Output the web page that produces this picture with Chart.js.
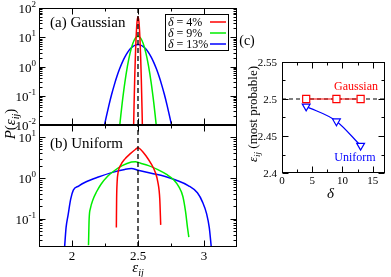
<!DOCTYPE html>
<html lang="en">
<head>
<meta charset="UTF-8">
<title>P(eps_ij) distributions</title>
<script src="https://cdn.jsdelivr.net/npm/chart.js"></script>
<style>
  body { margin: 0; background: #fff; }
  #wrap { position: relative; width: 391px; height: 277px; }
  #wrap canvas { position: absolute; left: 0; top: 0; }
</style>
</head>
<body>
<div id="wrap">
  <canvas id="chartA" width="391" height="277"></canvas>
  <canvas id="chartB" width="391" height="277"></canvas>
  <canvas id="chartC" width="391" height="277"></canvas>
</div>
<script>
// ---- data ----
const legendLabels = ['4%', '9%', '13%'];

// (a) Gaussian
const gRedX = [2.467, 2.47, 2.475, 2.48, 2.485, 2.49, 2.495, 2.5, 2.505, 2.51, 2.515, 2.52, 2.525, 2.53, 2.533];
const gRedY = [0.01, 0.044, 0.38, 2.2, 8.6, 22.9, 41, 50, 41, 22.9, 8.6, 2.2, 0.38, 0.044, 0.01];
const gGreenX = [2.36, 2.37, 2.38, 2.4, 2.42, 2.44, 2.46, 2.48, 2.5, 2.52, 2.54, 2.56, 2.58, 2.6, 2.62, 2.63, 2.64];
const gGreenY = [0.0081, 0.0218, 0.0547, 0.274, 1.03, 2.87, 6.0, 9.33, 10.8, 9.33, 6.0, 2.87, 1.03, 0.274, 0.0547, 0.0218, 0.0081];
const gBlueX = [2.245, 2.26, 2.28, 2.3, 2.32, 2.34, 2.36, 2.38, 2.4, 2.42, 2.44, 2.46, 2.48, 2.5,
                2.52, 2.54, 2.56, 2.58, 2.6, 2.62, 2.64, 2.66, 2.68, 2.7, 2.72, 2.74, 2.755];
const gBlueY = [0.0094, 0.0194, 0.048, 0.11, 0.231, 0.452, 0.815, 1.36, 2.09, 2.98, 3.93, 4.78, 5.38, 5.6,
                5.38, 4.78, 3.93, 2.98, 2.09, 1.36, 0.815, 0.452, 0.231, 0.11, 0.048, 0.0194, 0.0094];

// (b) Uniform
const uRedX = [2.336, 2.338, 2.342, 2.35, 2.37, 2.4, 2.44, 2.48, 2.5, 2.52, 2.56, 2.6, 2.63, 2.65, 2.665, 2.672];
const uRedY = [0.06, 0.3, 0.8, 1.4, 2.1, 2.9, 3.9, 5.0, 5.5, 5.0, 3.5, 2.2, 1.4, 0.8, 0.3, 0.07];
const uGreenX = [2.125, 2.13, 2.14, 2.16, 2.185, 2.22, 2.27, 2.32, 2.38, 2.45, 2.48, 2.52, 2.58, 2.65, 2.72, 2.77, 2.81, 2.84, 2.86, 2.875, 2.885];
const uGreenY = [0.022, 0.1, 0.18, 0.3, 0.45, 0.7, 1.1, 1.5, 2.0, 2.45, 2.5, 2.3, 2.0, 1.6, 1.2, 0.9, 0.6, 0.35, 0.15, 0.06, 0.035];
const uBlueX = [1.944, 1.955, 1.97, 1.99, 2.01, 2.05, 2.1, 2.2, 2.3, 2.4, 2.45, 2.5, 2.6, 2.7, 2.8, 2.88, 2.95, 2.99, 3.02, 3.04, 3.055];
const uBlueY = [0.02, 0.06, 0.12, 0.3, 0.5, 0.63, 0.78, 1.05, 1.35, 1.62, 1.7, 1.55, 1.3, 1.1, 0.85, 0.65, 0.43, 0.25, 0.13, 0.06, 0.02];

// (c) most probable eps_ij vs delta
const deltaVals = [4, 9, 13];
const peakGauss = [2.5, 2.5, 2.5];
const peakUnif = [2.49, 2.47, 2.437];
const refLineX = [0, 17];
const refLineY = [2.5, 2.5];

// ticks
const epsTicks = [2, 2.5, 3];
const epsMinor = [2.25, 2.75];
const expTicksA = [0.01, 0.1, 1, 10, 100];
const expLabelsA = ['-2', '-1', '0', '1', '2'];
const expTicksB = [0.1, 1, 10];
const expLabelsB = ['-1', '0', '1'];
const deltaTicks = [0, 5, 10, 15];
const deltaMinor = [2.5, 7.5, 12.5];
const peakTicks = [2.4, 2.45, 2.5, 2.55];
const peakMinor = [2.425, 2.475, 2.525];

const RED = '#ff0000', GREEN = '#00ee00', BLUE = '#0000ff';
const SERIF = '"Liberation Serif", "DejaVu Serif", serif';

const pts = (xs, ys) => xs.map((x, i) => ({ x: x, y: ys[i] }));

function logMinor(min, max) {
  const out = [];
  for (let e = Math.floor(Math.log10(min)); e <= Math.ceil(Math.log10(max)); e++) {
    for (let k = 2; k <= 9; k++) {
      const v = k * Math.pow(10, e);
      if (v > min * 1.0001 && v < max * 0.9999) out.push(v);
    }
  }
  return out;
}

// draw text made of pieces with different fonts
function rich(ctx, parts, x, y, align) {
  let w = 0;
  parts.forEach(p => { ctx.font = p[1]; w += ctx.measureText(p[0]).width; });
  let cx = align === 'center' ? x - w / 2 : (align === 'right' ? x - w : x);
  ctx.textAlign = 'left';
  ctx.textBaseline = 'alphabetic';
  parts.forEach(p => {
    ctx.font = p[1];
    ctx.fillText(p[0], cx, y + (p[2] || 0));
    cx += ctx.measureText(p[0]).width;
  });
}

function logLabels(ctx, sy, a, vals, exps) {
  vals.forEach((v, i) => {
    const py = sy.getPixelForValue(v);
    ctx.font = '13px ' + SERIF;
    const w10 = ctx.measureText('10').width;
    ctx.font = '9px ' + SERIF;
    const we = ctx.measureText(exps[i]).width;
    const x0 = a.left - 3 - w10 - we;
    rich(ctx, [['10', '13px ' + SERIF, 0], [exps[i], '9px ' + SERIF, -6]], x0, py + 5, 'left');
  });
}

function axesPlugin(cfg) {
  return {
    id: 'axes',
    afterDraw(chart) {
      const ctx = chart.ctx, a = chart.chartArea, sx = chart.scales.x, sy = chart.scales.y;
      ctx.save();
      ctx.strokeStyle = '#000';
      ctx.lineWidth = 1;
      const L = Math.round(a.left) + 0.5, R = Math.round(a.right) - 0.5;
      const T = Math.round(a.top) + 0.5, B = Math.round(a.bottom) - 0.5;
      ctx.strokeRect(L, T, R - L, B - T);
      ctx.beginPath();
      const tx = (v, len) => {
        const p = Math.round(sx.getPixelForValue(v)) + 0.5;
        ctx.moveTo(p, B); ctx.lineTo(p, B - len);
        ctx.moveTo(p, T); ctx.lineTo(p, T + len);
      };
      const ty = (v, len) => {
        const p = Math.round(sy.getPixelForValue(v)) + 0.5;
        ctx.moveTo(L, p); ctx.lineTo(L + len, p);
        ctx.moveTo(R, p); ctx.lineTo(R - len, p);
      };
      cfg.xMajor.forEach(v => tx(v, 6));
      cfg.xMinor.forEach(v => tx(v, 3));
      cfg.yMajor.forEach(v => ty(v, 6));
      cfg.yMinor.forEach(v => ty(v, 3));
      ctx.stroke();
      ctx.fillStyle = '#000';
      if (cfg.draw) cfg.draw(ctx, a, sx, sy);
      ctx.restore();
    }
  };
}

function baseOptions(padding, xScale, yScale) {
  return {
    responsive: false,
    animation: false,
    events: [],
    layout: { padding: padding },
    plugins: { legend: { display: false }, tooltip: { enabled: false } },
    elements: {
      point: { radius: 0 },
      line: { borderWidth: 1.5, cubicInterpolationMode: 'monotone', fill: false }
    },
    scales: { x: xScale, y: yScale }
  };
}

function dashed(xs, ys) {
  return { data: pts(xs, ys), borderColor: '#000', borderWidth: 1.3, borderDash: [5, 3],
           cubicInterpolationMode: 'default', tension: 0 };
}

// ---- (a) Gaussian ----
new Chart(document.getElementById('chartA'), {
  type: 'line',
  data: {
    datasets: [
      dashed([2.5, 2.5], [0.01, 100]),
      { label: legendLabels[0], data: pts(gRedX, gRedY), borderColor: RED },
      { label: legendLabels[1], data: pts(gGreenX, gGreenY), borderColor: GREEN },
      { label: legendLabels[2], data: pts(gBlueX, gBlueY), borderColor: BLUE }
    ]
  },
  options: baseOptions({ left: 39, top: 8, right: 154, bottom: 152 },
    { type: 'linear', min: 1.75, max: 3.25, display: false },
    { type: 'logarithmic', min: 0.01, max: 100, display: false }),
  plugins: [axesPlugin({
    xMajor: epsTicks, xMinor: epsMinor,
    yMajor: expTicksA, yMinor: logMinor(0.01, 100),
    draw(ctx, a, sx, sy) {
      logLabels(ctx, sy, a, expTicksA, expLabelsA);
      rich(ctx, [['(a) Gaussian', '15px ' + SERIF]], 50, 27, 'left');
      // legend box
      ctx.strokeRect(165.5, 14.5, 63, 36);
      const cols = [RED, GREEN, BLUE];
      legendLabels.forEach((t, i) => {
        const by = 26 + i * 11;
        ctx.fillStyle = '#000';
        rich(ctx, [['δ', 'italic 12px ' + SERIF], [' = ' + t, '12px ' + SERIF]], 168, by, 'left');
        ctx.strokeStyle = cols[i];
        ctx.lineWidth = 1.5;
        ctx.beginPath();
        ctx.moveTo(210, by - 4); ctx.lineTo(226, by - 4);
        ctx.stroke();
      });
      ctx.strokeStyle = '#000';
      ctx.lineWidth = 1;
      // y axis title
      ctx.save();
      ctx.translate(15, 124);
      ctx.rotate(-Math.PI / 2);
      rich(ctx, [['P', 'italic 15px ' + SERIF], ['(', '15px ' + SERIF], ['ε', 'italic 15px ' + SERIF],
                 ['ij', 'italic 10px ' + SERIF, 4], [')', '15px ' + SERIF]], 0, 0, 'center');
      ctx.restore();
    }
  })]
});

// ---- (b) Uniform ----
new Chart(document.getElementById('chartB'), {
  type: 'line',
  data: {
    datasets: [
      dashed([2.5, 2.5], [0.02, 20]),
      { data: pts(uRedX, uRedY), borderColor: RED },
      { data: pts(uGreenX, uGreenY), borderColor: GREEN },
      { data: pts(uBlueX, uBlueY), borderColor: BLUE }
    ]
  },
  options: baseOptions({ left: 39, top: 125, right: 154, bottom: 30 },
    { type: 'linear', min: 1.75, max: 3.25, display: false },
    { type: 'logarithmic', min: 0.02, max: 20, display: false }),
  plugins: [axesPlugin({
    xMajor: epsTicks, xMinor: epsMinor,
    yMajor: expTicksB, yMinor: logMinor(0.02, 20),
    draw(ctx, a, sx, sy) {
      logLabels(ctx, sy, a, expTicksB, expLabelsB);
      epsTicks.forEach(v => {
        rich(ctx, [[String(v), '13px ' + SERIF]], sx.getPixelForValue(v), a.bottom + 13, 'center');
      });
      rich(ctx, [['(b) Uniform', '15px ' + SERIF]], 50, 148, 'left');
      rich(ctx, [['ε', 'italic 15px ' + SERIF], ['ij', 'italic 10px ' + SERIF, 4]],
           sx.getPixelForValue(2.5), 272, 'center');
    }
  })]
});

// ---- (c) most probable value ----
new Chart(document.getElementById('chartC'), {
  type: 'line',
  data: {
    datasets: [
      { data: pts(deltaVals, peakGauss), borderColor: RED, borderWidth: 1.2, tension: 0,
        pointStyle: 'rect', pointRadius: 5, pointBorderWidth: 1.2,
        pointBackgroundColor: '#fff', pointBorderColor: RED },
      { data: pts(deltaVals, peakUnif), borderColor: BLUE, borderWidth: 1.2, tension: 0,
        pointStyle: 'triangle', pointRotation: 180, pointRadius: 4.5, pointBorderWidth: 1.2,
        pointBackgroundColor: '#fff', pointBorderColor: BLUE },
      Object.assign(dashed(refLineX, refLineY), { borderWidth: 1.2, borderDash: [4, 3] })
    ]
  },
  options: baseOptions({ left: 282, top: 62, right: 1, bottom: 104 },
    { type: 'linear', min: 0, max: 17, display: false },
    { type: 'linear', min: 2.4, max: 2.55, display: false }),
  plugins: [axesPlugin({
    xMajor: deltaTicks, xMinor: deltaMinor,
    yMajor: peakTicks, yMinor: peakMinor,
    draw(ctx, a, sx, sy) {
      peakTicks.forEach(v => {
        rich(ctx, [[String(v), '11px ' + SERIF]], a.left - 5, sy.getPixelForValue(v) + 4, 'right');
      });
      deltaTicks.forEach(v => {
        rich(ctx, [[String(v), '11px ' + SERIF]], sx.getPixelForValue(v), a.bottom + 11, 'center');
      });
      rich(ctx, [['δ', 'italic 15px ' + SERIF]], sx.getPixelForValue(8), 198, 'center');
      rich(ctx, [['(c)', '14px ' + SERIF]], 247, 45, 'center');
      ctx.fillStyle = RED;
      rich(ctx, [['Gaussian', '12px ' + SERIF]], 356, 90, 'center');
      ctx.fillStyle = BLUE;
      rich(ctx, [['Uniform', '12px ' + SERIF]], 355, 161, 'center');
      ctx.fillStyle = '#000';
      ctx.save();
      ctx.translate(257, 114);
      ctx.rotate(-Math.PI / 2);
      rich(ctx, [['ε', 'italic 13px ' + SERIF], ['ij', 'italic 9px ' + SERIF, 3],
                 [' (most probable)', '13px ' + SERIF]], 0, 0, 'center');
      ctx.restore();
    }
  })]
});
</script>
</body>
</html>
